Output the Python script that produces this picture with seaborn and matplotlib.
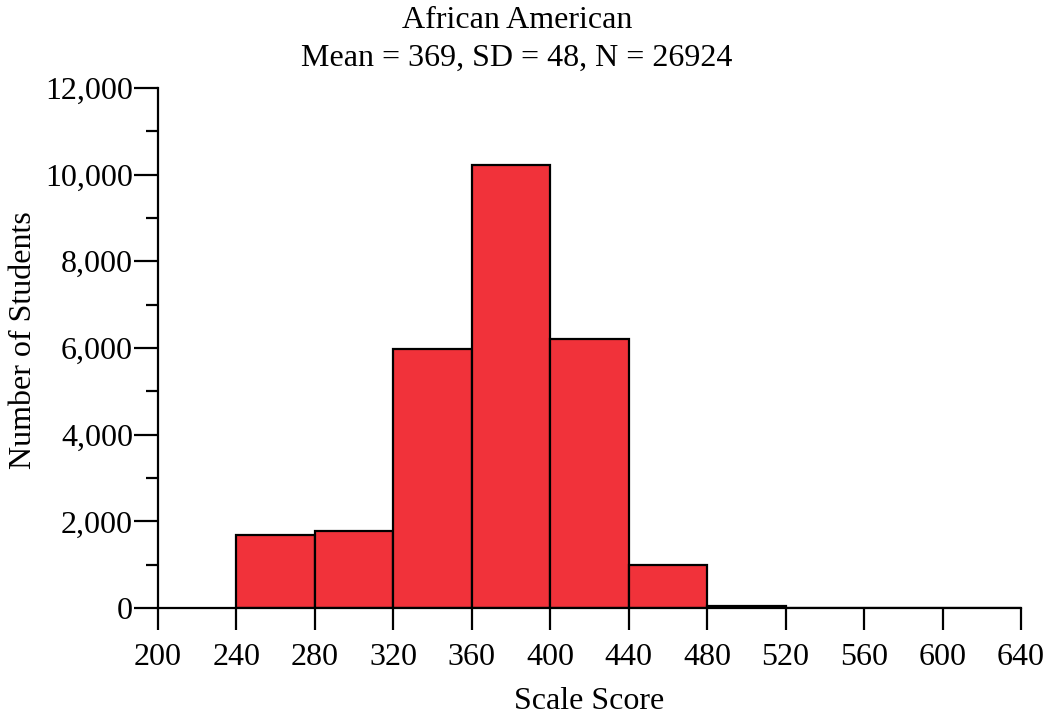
import numpy as np
import matplotlib
matplotlib.use('Agg')
import matplotlib.pyplot as plt
import matplotlib.ticker as mticker
import seaborn as sns

# ── DATA ────────────────────────────────────────────────────
bin_edges = [240, 280, 320, 360, 400, 440, 480, 520, 560, 600, 640]
counts    = [1690, 1780, 5985, 10215, 6215, 995, 40, 3, 1, 0]
x_ticks   = [200, 240, 280, 320, 360, 400, 440, 480, 520, 560, 600, 640]
title_1   = 'African American'
title_2   = 'Mean = 369, SD = 48, N = 26924'

bin_mids = [(a + b) / 2 for a, b in zip(bin_edges[:-1], bin_edges[1:])]

sns.set_style('ticks')
plt.rcParams['font.family'] = ['Liberation Serif', 'DejaVu Serif']
plt.rcParams['text.color'] = 'black'
plt.rcParams['axes.labelcolor'] = 'black'
plt.rcParams['xtick.color'] = 'black'
plt.rcParams['ytick.color'] = 'black'
plt.rcParams['axes.linewidth'] = 1.6

FS = 23

fig = plt.figure(figsize=(10.52, 7.17), dpi=100)
ax = fig.add_axes([0.1502, 0.152, 0.8203, 0.7253])

sns.histplot(x=bin_mids, weights=counts, bins=bin_edges, ax=ax,
             color='#F1323A', alpha=1, edgecolor='black', linewidth=1.6)

ax.set_xlim(200, 640)
ax.set_ylim(0, 12000)
ax.set_xticks(x_ticks)
ax.yaxis.set_major_locator(mticker.MultipleLocator(2000))
ax.yaxis.set_minor_locator(mticker.MultipleLocator(1000))
ax.yaxis.set_major_formatter(mticker.StrMethodFormatter('{x:,.0f}'))
ax.tick_params(axis='x', length=16, width=1.6, labelsize=FS, pad=9)
ax.tick_params(axis='y', which='major', length=17, width=1.6, labelsize=FS, pad=1)
ax.tick_params(axis='y', which='minor', length=8.5, width=1.6)
sns.despine(ax=ax)
ax.spines['left'].set_color('black')
ax.spines['bottom'].set_color('black')

ax.set_xlabel('Scale Score', fontsize=FS)
ax.set_ylabel('Number of Students', fontsize=FS)
ax.xaxis.set_label_coords(0.5, -0.152)
ax.yaxis.set_label_coords(-0.139, 0.515)

fig.text(517 / 1052, 1 - 20 / 717, title_1, ha='center', va='center', fontsize=FS)
fig.text(517 / 1052, 1 - 58 / 717, title_2, ha='center', va='center', fontsize=FS)

plt.savefig('out.png', dpi=100)
plt.close()
